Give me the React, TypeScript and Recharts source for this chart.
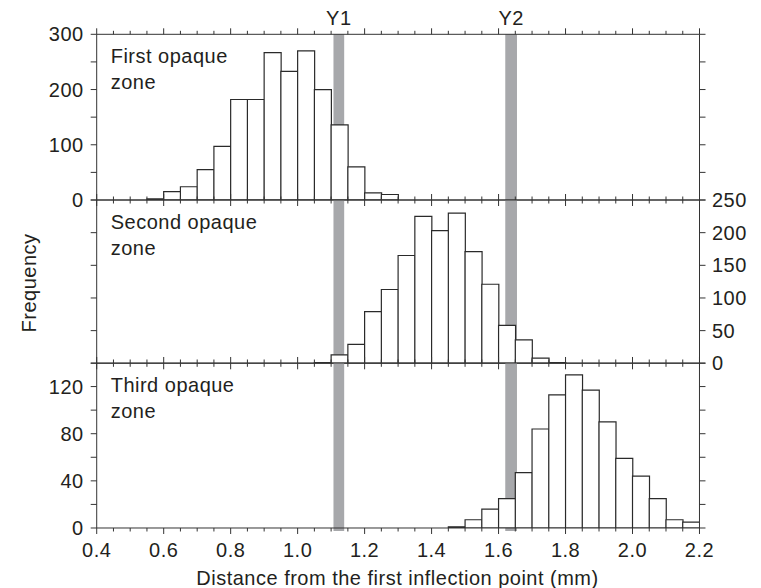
import React from 'react';
import { ComposedChart, Bar, XAxis, YAxis, ReferenceArea } from 'recharts';

const FONT = '"Liberation Sans", Arial, Helvetica, sans-serif';
const INK = '#231f20';
const LINE = '#333333';
const BAND = '#a7a8ab';

// Histogram classes: centre of each 0.05 mm bin
const BIN_CENTERS = [
  0.425, 0.475, 0.525, 0.575, 0.625, 0.675, 0.725, 0.775, 0.825, 0.875, 0.925, 0.975,
  1.025, 1.075, 1.125, 1.175, 1.225, 1.275, 1.325, 1.375, 1.425, 1.475, 1.525, 1.575,
  1.625, 1.675, 1.725, 1.775, 1.825, 1.875, 1.925, 1.975, 2.025, 2.075, 2.125, 2.175,
];

// Frequencies per bin for each opaque zone
const FIRST_ZONE = [
  0, 0, 0, 2, 15, 24, 55, 97, 182, 182, 267, 233,
  270, 200, 136, 60, 13, 10, 0, 0, 0, 0, 0, 0,
  0, 0, 0, 0, 0, 0, 0, 0, 0, 0, 0, 0,
];
const SECOND_ZONE = [
  0, 0, 0, 0, 0, 0, 0, 0, 0, 0, 0, 0,
  0, 1, 13, 29, 79, 113, 165, 225, 203, 230, 171, 121,
  58, 36, 8, 1, 0, 0, 0, 0, 0, 0, 0, 0,
];
const THIRD_ZONE = [
  0, 0, 0, 0, 0, 0, 0, 0, 0, 0, 0, 0,
  0, 0, 0, 0, 0, 0, 0, 0, 0, 1, 7, 16,
  25, 47, 84, 113, 130, 117, 90, 59, 44, 25, 7, 5,
];

// Distance axis ticks (mm); labels on multiples of 0.2
const X_TICKS = [
  0.4, 0.45, 0.5, 0.55, 0.6, 0.65, 0.7, 0.75, 0.8, 0.85, 0.9, 0.95, 1.0,
  1.05, 1.1, 1.15, 1.2, 1.25, 1.3, 1.35, 1.4, 1.45, 1.5, 1.55, 1.6, 1.65,
  1.7, 1.75, 1.8, 1.85, 1.9, 1.95, 2.0, 2.05, 2.1, 2.15, 2.2,
];

// Frequency axis ticks and labelled values per panel
const FIRST_Y_TICKS = [0, 50, 100, 150, 200, 250, 300];
const FIRST_Y_LABELS = [0, 100, 200, 300];
const SECOND_Y_TICKS = [0, 50, 100, 150, 200, 250];
const SECOND_Y_LABELS = [0, 50, 100, 150, 200, 250];
const THIRD_Y_TICKS = [0, 20, 40, 60, 80, 100, 120, 140];
const THIRD_Y_LABELS = [0, 40, 80, 120];

// Shaded marker ranges (mm)
const Y1_RANGE = [1.107, 1.139];
const Y2_RANGE = [1.62, 1.655];

const CHART_W = 745;
const LEFT_AXIS_W = 60;
const RIGHT_AXIS_W = 45;
const MARGIN_LEFT = 28.7;
const MARGIN_RIGHT = 8.5;

function XTick(props: any) {
  const { x, y, payload, side, showLabel } = props;
  const v = Number(payload.value);
  const major = Math.abs(v * 5 - Math.round(v * 5)) < 1e-6;
  const len = major ? 6 : 3.5;
  const dir = side === 'top' ? -1 : 1;
  return (
    <g>
      <line x1={x} x2={x} y1={y} y2={y + dir * len} stroke={LINE} strokeWidth={1} />
      {showLabel && major ? (
        <text x={x} y={y + 29.2} textAnchor="middle" fill={INK} fontSize={20}>
          {v.toFixed(1)}
        </text>
      ) : null}
    </g>
  );
}

function titleContent(lines: string[]) {
  return (props: any) => {
    const vb = props.viewBox;
    const x = vb.x + 14;
    const y = vb.y + vb.height + 28.8;
    return (
      <text x={x} y={y} fill={INK} fontSize={20}>
        {lines.map((l, i) => (
          <tspan key={i} x={x} dy={i === 0 ? 0 : 26}>
            {l}
          </tspan>
        ))}
      </text>
    );
  };
}

function frequencyContent(props: any) {
  const vb = props.viewBox;
  const cx = vb.x + vb.width - 67.7;
  const cy = vb.y + vb.height / 2 + 1.3;
  return (
    <text
      x={cx}
      y={cy}
      dy="0.36em"
      textAnchor="middle"
      fill={INK}
      fontSize={20}
      transform={`rotate(-90 ${cx} ${cy})`}
    >
      Frequency
    </text>
  );
}

function distanceContent(props: any) {
  const vb = props.viewBox;
  const cx = vb.x + vb.width / 2 - 0.6;
  const y = vb.y + 56.7;
  return (
    <text x={cx} y={y} textAnchor="middle" fill={INK} fontSize={20}>
      Distance from the first inflection point (mm)
    </text>
  );
}

type PanelProps = {
  top: number;
  height: number;
  marginTop: number;
  marginBottom: number;
  topAxisH: number;
  bottomAxisH: number;
  values: number[];
  yMax: number;
  yTicks: number[];
  yLabels: number[];
  labelSide: 'left' | 'right';
  title: string[];
  showXLabels?: boolean;
  markerLabels?: boolean;
  bandFloor: number;
  frequency?: boolean;
};

function Panel(p: PanelProps) {
  const rows = BIN_CENTERS.map((x, i) => ({ x, v: p.values[i] }));
  const fmt = (labels: number[]) => (v: number) => (labels.includes(v) ? String(v) : '');
  const none = () => '';
  return (
    <div style={{ position: 'absolute', left: 0, top: p.top, width: CHART_W, height: p.height }}>
      <ComposedChart
        width={CHART_W}
        height={p.height}
        data={rows}
        margin={{ top: p.marginTop, right: MARGIN_RIGHT, bottom: p.marginBottom, left: MARGIN_LEFT }}
        barCategoryGap={0}
        barGap={0}
      >
        <XAxis
          xAxisId="num"
          dataKey="x"
          type="number"
          orientation="bottom"
          domain={[0.4, 2.2]}
          allowDataOverflow
          ticks={X_TICKS}
          interval={0}
          height={p.bottomAxisH}
          tickLine={false}
          tickSize={0}
          tickMargin={0}
          axisLine={{ stroke: LINE, strokeWidth: 1 }}
          tick={<XTick side="bottom" showLabel={!!p.showXLabels} />}
          label={p.showXLabels ? { content: distanceContent } : undefined}
        />
        <XAxis
          xAxisId="numTop"
          dataKey="x"
          type="number"
          orientation="top"
          domain={[0.4, 2.2]}
          allowDataOverflow
          ticks={X_TICKS}
          interval={0}
          height={p.topAxisH}
          tickLine={false}
          tickSize={0}
          tickMargin={0}
          axisLine={{ stroke: LINE, strokeWidth: 1 }}
          tick={<XTick side="top" showLabel={false} />}
          label={{ content: titleContent(p.title) }}
        />
        <YAxis
          yAxisId="left"
          orientation="left"
          width={LEFT_AXIS_W}
          domain={[0, p.yMax]}
          allowDataOverflow
          ticks={p.yTicks}
          interval={0}
          tickSize={6}
          tickMargin={7}
          tickLine={{ stroke: LINE, strokeWidth: 1 }}
          axisLine={{ stroke: LINE, strokeWidth: 1 }}
          tick={{ fill: INK, fontSize: 20 }}
          tickFormatter={p.labelSide === 'left' ? fmt(p.yLabels) : none}
          label={p.frequency ? { content: frequencyContent } : undefined}
        />
        <YAxis
          yAxisId="right"
          orientation="right"
          width={RIGHT_AXIS_W}
          domain={[0, p.yMax]}
          allowDataOverflow
          ticks={p.yTicks}
          interval={0}
          tickSize={6}
          tickMargin={6.5}
          tickLine={{ stroke: LINE, strokeWidth: 1 }}
          axisLine={{ stroke: LINE, strokeWidth: 1 }}
          tick={{ fill: INK, fontSize: 20 }}
          tickFormatter={p.labelSide === 'right' ? fmt(p.yLabels) : none}
        />
        <ReferenceArea
          xAxisId="num"
          yAxisId="left"
          x1={Y1_RANGE[0]}
          x2={Y1_RANGE[1]}
          y1={p.bandFloor}
          y2={p.yMax}
          fill={BAND}
          fillOpacity={1}
          stroke="none"
          ifOverflow="visible"
          label={p.markerLabels ? { value: 'Y1', position: 'top', offset: 9.3, fill: INK, fontSize: 20 } : undefined}
        />
        <ReferenceArea
          xAxisId="num"
          yAxisId="left"
          x1={Y2_RANGE[0]}
          x2={Y2_RANGE[1]}
          y1={p.bandFloor}
          y2={p.yMax}
          fill={BAND}
          fillOpacity={1}
          stroke="none"
          ifOverflow="visible"
          label={p.markerLabels ? { value: 'Y2', position: 'top', offset: 9.3, fill: INK, fontSize: 20 } : undefined}
        />
        <Bar
          xAxisId="num"
          yAxisId={p.labelSide}
          dataKey="v"
          fill="#ffffff"
          stroke="#2a2a2a"
          strokeWidth={1.2}
          isAnimationActive={false}
        />
      </ComposedChart>
    </div>
  );
}

export default function App() {
  return (
    <div
      style={{
        position: 'relative',
        width: CHART_W,
        height: 580,
        fontFamily: FONT,
        letterSpacing: '0.5px',
        background: '#ffffff',
      }}
    >
      <style>{'body { margin: 8px 8px 0 8px; } .recharts-surface { overflow: visible; }'}</style>
      <Panel
        top={0}
        height={210}
        marginTop={16.3}
        marginBottom={10}
        topAxisH={10}
        bottomAxisH={8}
        values={FIRST_ZONE}
        yMax={300}
        yTicks={FIRST_Y_TICKS}
        yLabels={FIRST_Y_LABELS}
        labelSide="left"
        title={['First opaque', 'zone']}
        bandFloor={0}
        markerLabels
      />
      <Panel
        top={176}
        height={196}
        marginTop={8}
        marginBottom={8}
        topAxisH={8}
        bottomAxisH={8.7}
        values={SECOND_ZONE}
        yMax={250}
        yTicks={SECOND_Y_TICKS}
        yLabels={SECOND_Y_LABELS}
        labelSide="right"
        title={['Second opaque', 'zone']}
        bandFloor={0}
        frequency
      />
      <Panel
        top={339.3}
        height={240.7}
        marginTop={8}
        marginBottom={0}
        topAxisH={8}
        bottomAxisH={59.7}
        values={THIRD_ZONE}
        yMax={140}
        yTicks={THIRD_Y_TICKS}
        yLabels={THIRD_Y_LABELS}
        labelSide="left"
        title={['Third opaque', 'zone']}
        showXLabels
        bandFloor={-2.5}
      />
    </div>
  );
}
